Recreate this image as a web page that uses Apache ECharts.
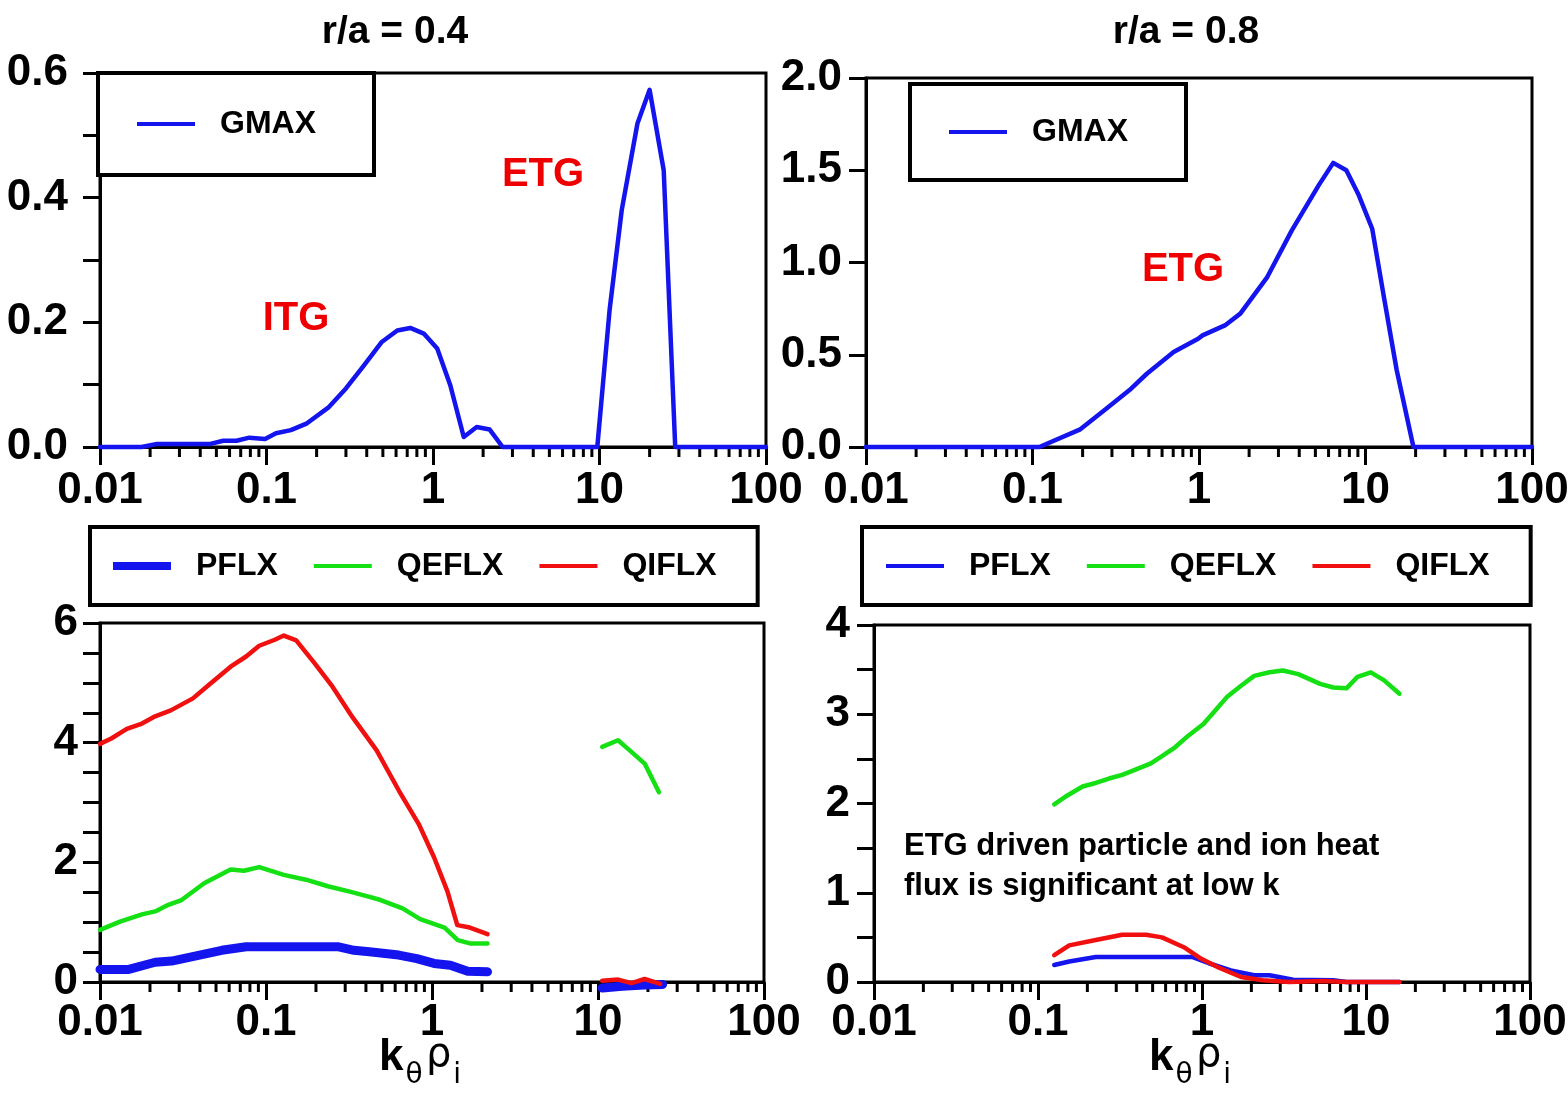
<!DOCTYPE html>
<html><head><meta charset="utf-8">
<script src="https://cdn.jsdelivr.net/npm/echarts@6/dist/echarts.min.js"></script>
<style>html,body{margin:0;padding:0;background:#fff}#c{width:1568px;height:1097px}</style>
</head><body><div id="c"></div><script>
const FONT = "'Liberation Sans Narrow','Liberation Sans',Arial,sans-serif";
const BLUE = '#1414ee', GREEN = '#14e014', RED = '#f01010';

// ---- data (k_theta rho_i, value) ----
const titles = ['r/a = 0.4', 'r/a = 0.8'];
const xTickMinor = [0.02,0.03,0.04,0.05,0.06,0.07,0.08,0.09,0.2,0.3,0.4,0.5,0.6,0.7,0.8,0.9,2,3,4,5,6,7,8,9,20,30,40,50,60,70,80,90];

// r/a = 0.4 growth rate
const gmax04K = [0.01,0.0178,0.022,0.046,0.055,0.066,0.079,0.098,0.114,0.14,0.175,0.237,0.30,0.385,0.49,0.61,0.73,0.88,1.06,1.27,1.53,1.83,2.19,2.62,9.7,11.5,13.6,16.9,20.0,24.3,28.5,100];
const gmax04V = [0,0,0.005,0.005,0.01,0.01,0.015,0.013,0.022,0.027,0.038,0.064,0.094,0.131,0.168,0.187,0.191,0.182,0.158,0.099,0.016,0.032,0.028,0,0,0.22,0.38,0.519,0.573,0.444,0,0];

// r/a = 0.8 growth rate
const gmax08K = [0.01,0.110,0.192,0.270,0.391,0.486,0.704,0.988,1.05,1.43,1.77,2.57,3.61,5.23,6.4,7.67,9.12,10.97,12.8,15.4,19.4,100];
const gmax08V = [0,0,0.094,0.199,0.316,0.397,0.515,0.587,0.605,0.659,0.723,0.921,1.174,1.418,1.54,1.50,1.364,1.183,0.83,0.416,0,0];

// r/a = 0.4 fluxes, low-k branch
const qi04K = [0.01,0.0117,0.0145,0.0179,0.0215,0.0267,0.0363,0.045,0.0612,0.0759,0.091,0.113,0.128,0.152,0.196,0.251,0.331,0.464,0.631,0.832,1.03,1.24,1.42,1.69,2.16];
const qi04V = [3.98,4.07,4.23,4.32,4.44,4.54,4.74,4.96,5.27,5.44,5.62,5.72,5.79,5.71,5.33,4.94,4.43,3.87,3.20,2.64,2.08,1.51,0.95,0.91,0.80];
const qe04K = [0.01,0.0132,0.0179,0.0215,0.0258,0.031,0.0424,0.0612,0.0736,0.091,0.128,0.174,0.236,0.32,0.41,0.49,0.665,0.848,1.19,1.43,1.69,2.16];
const qe04V = [0.87,1.01,1.13,1.18,1.29,1.37,1.65,1.88,1.86,1.92,1.79,1.71,1.60,1.51,1.43,1.37,1.23,1.05,0.91,0.70,0.645,0.645];
const pf04K = [0.01,0.0149,0.0215,0.027,0.0398,0.0541,0.0759,0.113,0.153,0.27,0.339,0.433,0.63,0.81,1.03,1.29,1.64,2.16];
const pf04V = [0.21,0.21,0.33,0.35,0.45,0.53,0.59,0.59,0.59,0.59,0.53,0.50,0.45,0.39,0.31,0.28,0.18,0.17];
// r/a = 0.4 fluxes, high-k branch
const qe04hK = [10.6,13.2,15.4,19.1,23.3];
const qe04hV = [3.93,4.04,3.88,3.65,3.17];
const qi04hK = [10.6,13.2,15.9,19.1,23.7];
const qi04hV = [0.02,0.04,-0.02,0.05,-0.03];
const pf04hK = [10.6,14,19,24.5];
const pf04hV = [-0.1,-0.07,-0.05,-0.04];

// r/a = 0.8 fluxes
const qe08K = [0.1256,0.151,0.187,0.225,0.271,0.326,0.393,0.488,0.57,0.685,0.825,1.02,1.19,1.43,1.73,2.08,2.58,3.12,3.86,5.25,6.32,7.6,8.88,10.7,12.9,16.0];
const qe08V = [1.99,2.09,2.19,2.23,2.28,2.32,2.38,2.45,2.53,2.63,2.76,2.89,3.03,3.20,3.32,3.43,3.47,3.49,3.45,3.34,3.30,3.29,3.42,3.47,3.38,3.23];
const qi08K = [0.1256,0.155,0.225,0.326,0.456,0.57,0.775,0.99,1.27,1.73,2.35,3.39,5.57,7.6,16.0];
const qi08V = [0.30,0.41,0.47,0.53,0.53,0.50,0.39,0.26,0.16,0.056,0.02,0,0.01,0,0];
const pf08K = [0.1256,0.155,0.225,0.326,0.6,0.87,1.1,1.5,2.08,2.58,3.6,6.32,7.6,16.0];
const pf08V = [0.19,0.23,0.28,0.28,0.28,0.28,0.21,0.13,0.075,0.075,0.026,0.02,0,0];

const pairs = (ks, vs) => ks.map((k, i) => [k, vs[i]]);

// ---- layout ----
const grids = [
  {left: 100, top: 73, width: 666, height: 374},
  {left: 866, top: 78, width: 666, height: 369},
  {left: 100, top: 623, width: 664, height: 359},
  {left: 874, top: 625, width: 656, height: 357}
];
const yCfg = [
  {max: 0.6, interval: 0.2, minor: 2, margin: 32, fmt: v => v.toFixed(1)},
  {max: 2.0, interval: 0.5, minor: 0, margin: 24, fmt: v => v.toFixed(1)},
  {max: 6, interval: 2, minor: 4, margin: 22, fmt: v => String(v)},
  {max: 4, interval: 1, minor: 2, margin: 24, fmt: v => String(v)}
];
const big = {fontFamily: FONT, fontWeight: 'bold', fontSize: 44, color: '#000'};

const xAxes = grids.map((g, i) => ({
  type: 'log', logBase: 10, gridIndex: i, min: 0.01, max: 100,
  axisLine: {show: true, onZero: false, lineStyle: {color: '#000', width: 3}},
  axisTick: {show: true, length: 18, lineStyle: {color: '#000', width: 3}},
  axisLabel: Object.assign({margin: i >= 2 ? 19 : 22}, big),
  splitLine: {show: false},
  name: i >= 2 ? '{k|k}{s|θ} {r|ρ}{s|i}' : '',
  nameLocation: 'middle', nameGap: 54, nameMoveOverlap: false,
  nameTextStyle: {padding: [0, 24, 0, 0], rich: {
    k: {fontFamily: FONT, fontWeight: 'bold', fontSize: 44, color: '#000', verticalAlign: 'top', lineHeight: 44},
    r: {fontFamily: "'DejaVu Sans',sans-serif", fontSize: 40, color: '#000', verticalAlign: 'top', lineHeight: 44},
    s: {fontFamily: "'DejaVu Sans',sans-serif", fontSize: 28, color: '#000', verticalAlign: 'top', lineHeight: 28, padding: [26, 0, 0, 2]}
  }}
}));
const yAxes = grids.map((g, i) => ({
  type: 'value', gridIndex: i, min: 0, max: yCfg[i].max, interval: yCfg[i].interval,
  axisLine: {show: true, lineStyle: {color: '#000', width: 3}},
  axisTick: {show: true, length: 17, lineStyle: {color: '#000', width: 3}},
  minorTick: {show: yCfg[i].minor > 0, splitNumber: yCfg[i].minor || 5, length: 17, lineStyle: {color: '#000', width: 3}},
  axisLabel: Object.assign({margin: yCfg[i].margin, formatter: yCfg[i].fmt}, big),
  splitLine: {show: false}
}));

function line(name, color, width, grid, ks, vs) {
  return {
    type: 'line', name, xAxisIndex: grid, yAxisIndex: grid, data: pairs(ks, vs),
    showSymbol: false, symbol: 'none', clip: false, animation: false,
    lineStyle: {color, width, join: 'round', cap: 'round'}, itemStyle: {color}
  };
}
function minorTicks(grid) {
  return {
    type: 'custom', xAxisIndex: grid, yAxisIndex: grid, silent: true, animation: false,
    data: xTickMinor.map(v => [v, 0]),
    renderItem: (params, api) => {
      const p = api.coord([api.value(0), 0]);
      return {type: 'line', shape: {x1: p[0], y1: p[1], x2: p[0], y2: p[1] + 10},
              style: {stroke: '#000', lineWidth: 3}};
    }
  };
}

const series = [
  line('GMAX', BLUE, 4.5, 0, gmax04K, gmax04V),
  line('GMAX', BLUE, 4.5, 1, gmax08K, gmax08V),
  line('PFLX', BLUE, 9, 2, pf04K, pf04V),
  line('PFLX', BLUE, 9, 2, pf04hK, pf04hV),
  line('QEFLX', GREEN, 4.5, 2, qe04K, qe04V),
  line('QEFLX', GREEN, 4.5, 2, qe04hK, qe04hV),
  line('QIFLX', RED, 4.5, 2, qi04K, qi04V),
  line('QIFLX', RED, 4.5, 2, qi04hK, qi04hV),
  line('PFLX ', BLUE, 4.5, 3, pf08K, pf08V),
  line('QEFLX', GREEN, 4.5, 3, qe08K, qe08V),
  line('QIFLX', RED, 4.5, 3, qi08K, qi08V),
  minorTicks(0), minorTicks(1), minorTicks(2), minorTicks(3)
];

const legText = {fontFamily: FONT, fontWeight: 'bold', fontSize: 32, color: '#000', padding: [0, 0, 0, 20]};
function legend(left, top, data, pad, gap) {
  return {
    left, top, data, orient: 'horizontal', selectedMode: false,
    icon: 'path://M0 0H58V4H0Z', itemWidth: 58, itemHeight: 40, itemGap: gap,
    padding: pad, borderColor: '#000', borderWidth: 4, backgroundColor: '#fff',
    width: 700, formatter: n => n.trim(),
    textStyle: legText
  };
}

const option = {
  backgroundColor: '#fff',
  animation: false,
  title: [
    {text: titles[0], left: 390, top: 8, textAlign: 'center', textStyle: Object.assign({}, big, {fontSize: 39})},
    {text: titles[1], left: 1181, top: 8, textAlign: 'center', textStyle: Object.assign({}, big, {fontSize: 39})}
  ],
  legend: [
    legend(98, 73, ['GMAX'], [35, 58, 35, 39], 10),
    legend(910, 84, ['GMAX'], [32, 58, 32, 39], 10),
    legend(90, 527, [{name: 'PFLX', icon: 'path://M0 0H58V8H0Z'}, 'QEFLX', 'QIFLX'], [23, 41, 23, 23], 36),
    legend(862, 527, [{name: 'PFLX ', icon: 'path://M0 0H58V4H0Z'}, 'QEFLX', 'QIFLX'], [23, 41, 23, 24], 36)
  ],
  grid: grids.map(g => Object.assign({show: true, borderColor: '#000', borderWidth: 3, containLabel: false, outerBoundsMode: 'none'}, g)),
  xAxis: xAxes,
  yAxis: yAxes,
  series,
  graphic: [
    {type: 'text', style: {text: 'ITG', x: 296, y: 319, align: 'center', verticalAlign: 'middle', font: "bold 40px " + FONT, fill: '#ee0000'}},
    {type: 'text', style: {text: 'ETG', x: 543, y: 175, align: 'center', verticalAlign: 'middle', font: "bold 40px " + FONT, fill: '#ee0000'}},
    {type: 'text', style: {text: 'ETG', x: 1183, y: 270, align: 'center', verticalAlign: 'middle', font: "bold 40px " + FONT, fill: '#ee0000'}},
    {type: 'text', style: {text: 'ETG driven particle and ion heat\nflux is significant at low k', x: 904, y: 826, align: 'left', verticalAlign: 'top', font: "bold 31px " + FONT, lineHeight: 40, fill: '#000'}}
  ]
};
const chart = echarts.init(document.getElementById('c'), null, {renderer: 'canvas'});
chart.setOption(option);
</script></body></html>
